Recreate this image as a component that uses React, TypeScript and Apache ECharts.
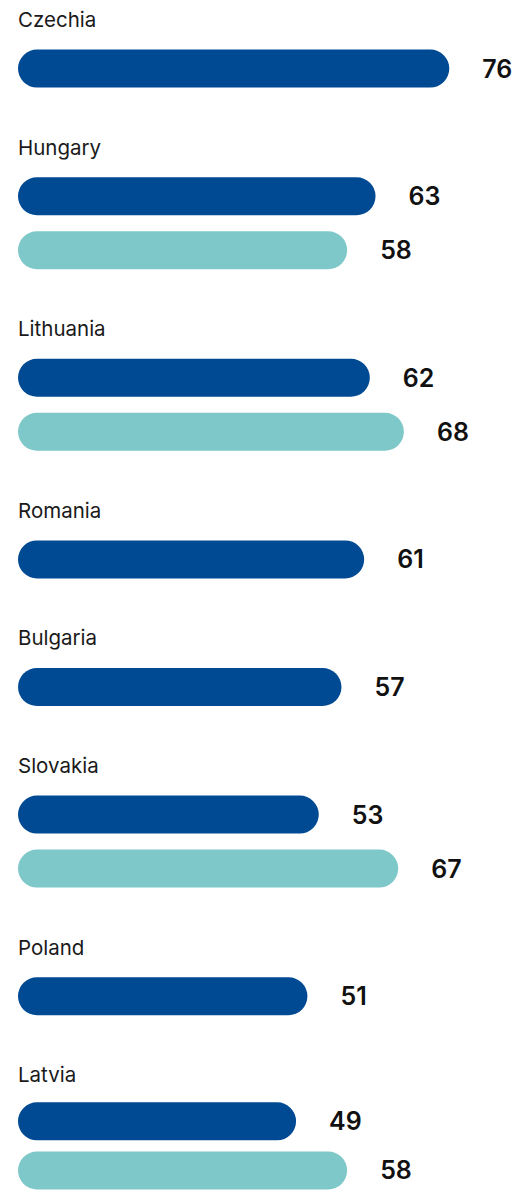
import React, { useEffect, useRef } from "react";
import * as echarts from "echarts";

const countries = ["Czechia", "Hungary", "Lithuania", "Romania", "Bulgaria", "Slovakia", "Poland", "Latvia"];
const seriesA = [76, 63, 62, 61, 57, 53, 51, 49];
const seriesB: (number | null)[] = [null, 58, 68, null, null, 67, null, 58];

const DARK = "#004a93";
const TEAL = "#7fc8c9";

export default function App() {
  const ref = useRef<HTMLDivElement>(null);
  useEffect(() => {
    if (!ref.current) return;
    const chart = echarts.init(ref.current, null, { renderer: "svg" });
    const grids: any[] = [];
    const xAxes: any[] = [];
    const yAxes: any[] = [];
    const series: any[] = [];
    const graphics: any[] = [];
    let baseline = 25;
    const slot = 54;
    countries.forEach((c, i) => {
      const vals: any[] = [{ value: seriesA[i], itemStyle: { color: DARK } }];
      if (seriesB[i] != null) vals.push({ value: seriesB[i], itemStyle: { color: TEAL } });
      const n = vals.length;
      const firstCenter = baseline + 43.6;
      const top = firstCenter - slot / 2;
      graphics.push({
        type: "text",
        left: 18,
        top: baseline - 16,
        style: {
          text: c,
          fontFamily: "Inter",
          fontSize: 20.5,
          fill: "#1a1a1a",
        },
      });
      grids.push({ left: 18, width: 454, top, height: slot * n });
      xAxes.push({ type: "value", gridIndex: i, min: 0, max: 80, show: false });
      yAxes.push({
        type: "category",
        gridIndex: i,
        inverse: true,
        data: vals.map((_, k) => c + (k === 0 ? " A" : " B")),
        show: false,
      });
      series.push({
        type: "bar",
        xAxisIndex: i,
        yAxisIndex: i,
        barWidth: 38,
        data: vals,
        itemStyle: { borderRadius: 19 },
        label: {
          show: true,
          position: "right",
          distance: 33,
          fontFamily: "Inter",
          fontWeight: 600,
          fontSize: 25,
          color: "#111",
        },
      });
      const lastCenter = firstCenter + (n - 1) * slot;
      baseline = lastCenter + 84.0;
    });
    chart.setOption({
      animation: false,
      grid: grids,
      xAxis: xAxes,
      yAxis: yAxes,
      series,
      graphic: graphics,
    });
    return () => chart.dispose();
  }, []);
  return (
    <div
      ref={ref}
      style={{ position: "absolute", left: 0, top: 0, width: 517, height: 1195, background: "#fff" }}
    />
  );
}
